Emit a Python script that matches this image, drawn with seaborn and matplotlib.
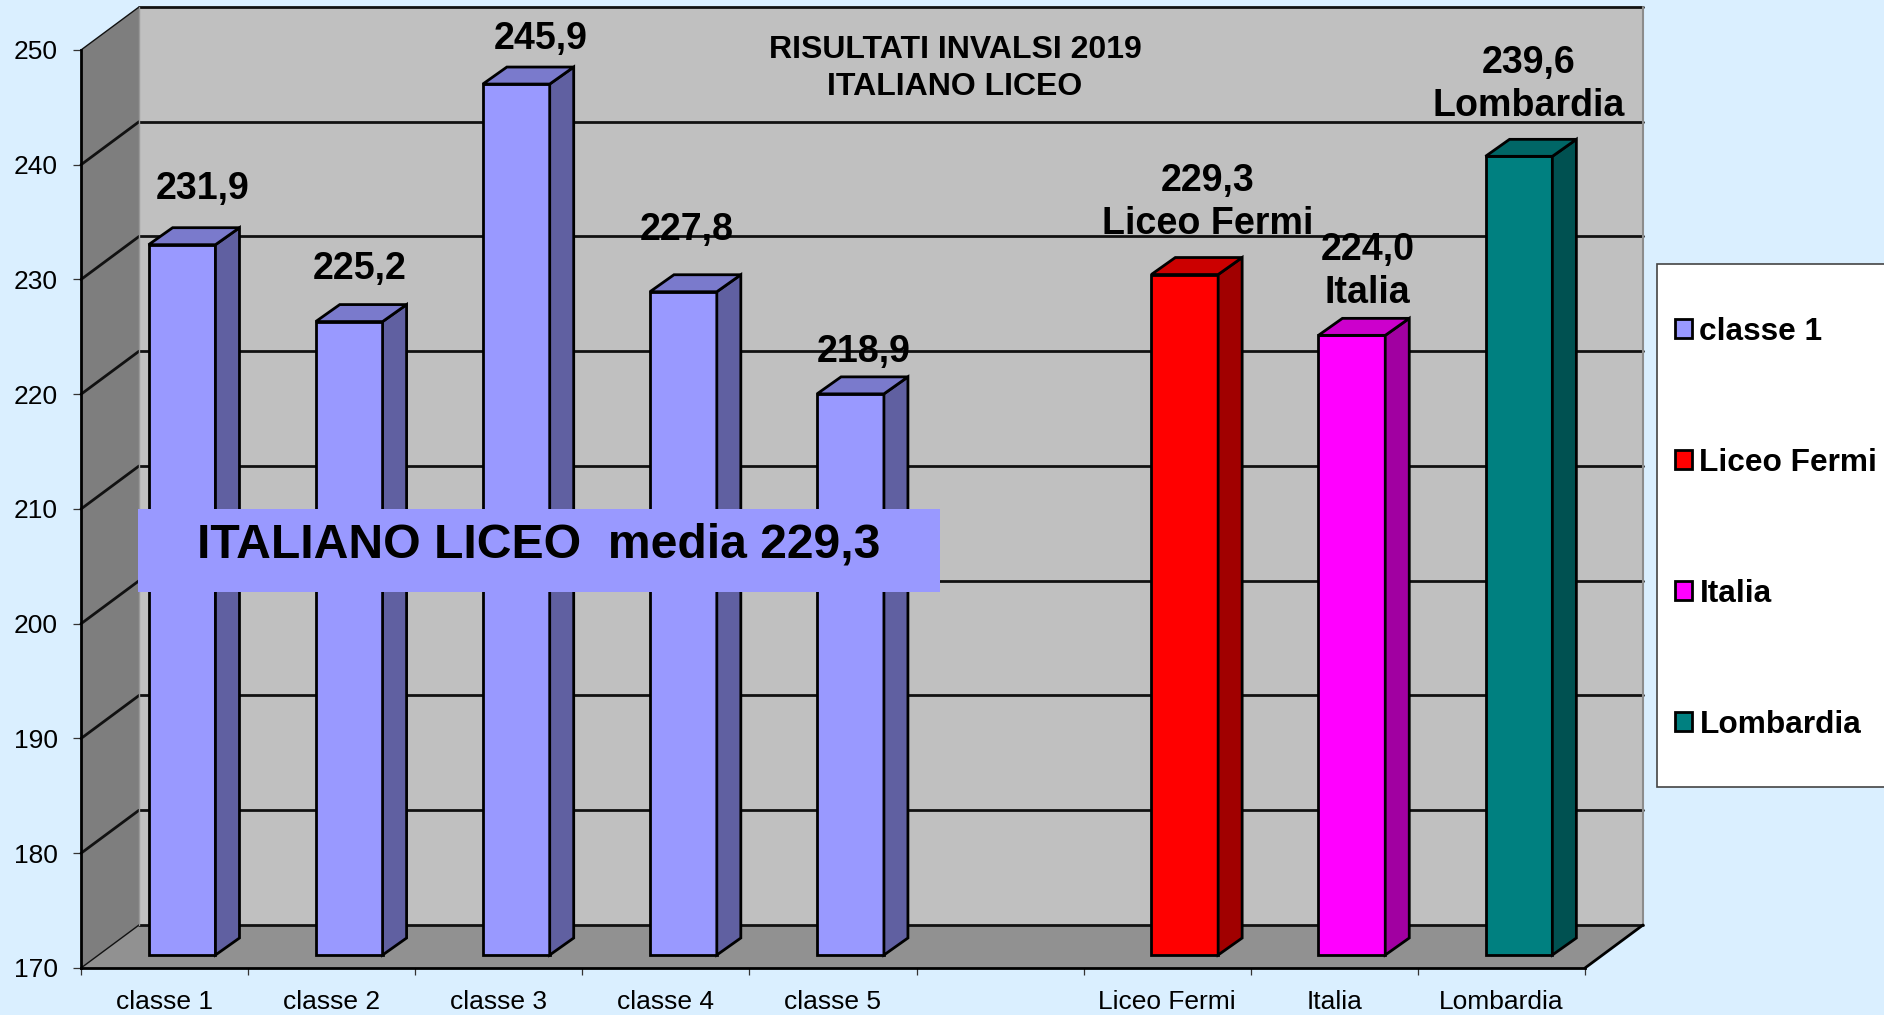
# -*- coding: utf-8 -*-
import seaborn as sns
import matplotlib.pyplot as plt
from matplotlib.patches import Patch, Polygon, Rectangle
from matplotlib.transforms import Affine2D


#%% Data

Categories = ["classe 1", "classe 2", "classe 3", "classe 4", "classe 5", "", "Liceo Fermi", "Italia", "Lombardia"]

Bar_Names  = ["classe 1", "classe 2", "classe 3", "classe 4", "classe 5", "Liceo Fermi", "Italia", "Lombardia"]
Bar_Values = [231.9, 225.2, 245.9, 227.8, 218.9, 229.3, 224.0, 239.6]
Bar_Labels = ["231,9", "225,2", "245,9", "227,8", "218,9", "229,3\nLiceo Fermi", "224,0\nItalia", "239,6\nLombardia"]

Legend_Names = ["classe 1", "Liceo Fermi", "Italia", "Lombardia"]

YTicks = [170, 180, 190, 200, 210, 220, 230, 240, 250]

Title_Text  = "RISULTATI INVALSI 2019\nITALIANO LICEO"
Banner_Text = "ITALIANO LICEO  media 229,3"


#%% Style

Width_Px, Height_Px = 1884, 1015
Dpi = 100

Color_Back   = "#DAEFFF"
Color_Wall   = "#C0C0C0"
Color_Side   = "#7E7E7E"
Color_Floor  = "#919191"
Color_Purple = "#9999FF"

Palette = {
    "classe 1": Color_Purple, "classe 2": Color_Purple, "classe 3": Color_Purple,
    "classe 4": Color_Purple, "classe 5": Color_Purple,
    "Liceo Fermi": "#FF0000", "Italia": "#FF00FF", "Lombardia": "#008080",
}

# label offsets from the top of the bar, pixels
Label_Offsets = [(21, 56), (11, 53), (24, 45), (3, 62), (13, 42), (23, 72), (16, 64), (10, 72)]

# plot box and depth, pixels
Box_Left, Box_Right, Box_Bottom, Box_Top = 81, 1585, 968, 50
Wall_Dx, Wall_Dy = 58, 43
Bar_Shift_X, Bar_Shift_Y = 17.5, 13
Bar_Dx, Bar_Dy = 24, 17
Bar_Width = 0.4

Line_W = 2

sns.set_style("white")
plt.rcParams["font.family"] = ["Liberation Sans", "DejaVu Sans"]


def shade(color, factor):
    r, g, b = plt.matplotlib.colors.to_rgb(color)
    return (r * factor, g * factor, b * factor)


Fig = plt.figure(figsize=[Width_Px / Dpi, Height_Px / Dpi], dpi=Dpi, facecolor=Color_Back)

# pixel coordinates, top left origin
Px = Affine2D().scale(1 / Width_Px, -1 / Height_Px).translate(0, 1) + Fig.transFigure


def axes_rect(shift_x, shift_y):
    return [(Box_Left + shift_x) / Width_Px,
            1 - (Box_Bottom - shift_y) / Height_Px,
            (Box_Right - Box_Left) / Width_Px,
            (Box_Bottom - Box_Top) / Height_Px]


XLim = [-0.5, 8.5]
YLim = [YTicks[0], YTicks[-1]]
Unit_X = (Box_Right - Box_Left) / (XLim[1] - XLim[0])
Unit_Y = (Box_Bottom - Box_Top) / (YLim[1] - YLim[0])
Dx, Dy = Wall_Dx / Unit_X, Wall_Dy / Unit_Y


#%% Walls and floor

ax = Fig.add_axes(axes_rect(0, 0), facecolor="none")
ax.set_xlim(XLim)
ax.set_ylim(YLim)

ax.add_patch(Polygon([(XLim[0] + Dx, YLim[0] + Dy), (XLim[1] + Dx, YLim[0] + Dy),
                      (XLim[1] + Dx, YLim[1] + Dy), (XLim[0] + Dx, YLim[1] + Dy)],
                     facecolor=Color_Wall, edgecolor="none", clip_on=False, zorder=0.5))
ax.add_patch(Polygon([(XLim[0], YLim[0]), (XLim[0] + Dx, YLim[0] + Dy),
                      (XLim[0] + Dx, YLim[1] + Dy), (XLim[0], YLim[1])],
                     facecolor=Color_Side, edgecolor="none", clip_on=False, zorder=0.6))
ax.add_patch(Polygon([(XLim[0], YLim[0]), (XLim[1], YLim[0]),
                      (XLim[1] + Dx, YLim[0] + Dy), (XLim[0] + Dx, YLim[0] + Dy)],
                     facecolor=Color_Floor, edgecolor="none", clip_on=False, zorder=0.7))

for tick in YTicks:
    # first and last diagonals are thinner
    diag_w = 1 if tick in YLim else Line_W
    ax.plot([XLim[0], XLim[0] + Dx], [tick, tick + Dy], color="#111111", lw=diag_w, clip_on=False, zorder=1)
    ax.plot([XLim[0] + Dx, XLim[1] + Dx], [tick + Dy, tick + Dy], color="#111111", lw=Line_W, clip_on=False, zorder=1)

# right hand edges
ax.plot([XLim[1] + Dx, XLim[1] + Dx], [YLim[0] + Dy, YLim[1] + Dy], color="#8C8C8C", lw=1.5, clip_on=False, zorder=1)
ax.plot([XLim[0] + Dx, XLim[0] + Dx], [YLim[0] + Dy, YLim[1] + Dy], color="#999999", lw=1, clip_on=False, zorder=1)
ax.plot([XLim[1], XLim[1] + Dx], [YLim[0], YLim[0] + Dy], color="k", lw=Line_W, clip_on=False, zorder=1)

ax.spines[["right", "top"]].set_visible(False)
ax.spines[["left", "bottom"]].set_linewidth(Line_W)
ax.spines[["left", "bottom"]].set_color("k")

ax.set_yticks(YTicks)
ax.tick_params(axis="y", length=5.8, width=0.9, pad=11, labelsize=19, color="#333333", labelcolor="k", left=True)
ax.set_xticks([i - 0.5 for i in range(10)], labels=[])
ax.tick_params(axis="x", which="major", length=5, width=0.9, color="#333333", bottom=True)
ax.set_xticks(range(9), labels=Categories, minor=True)
ax.tick_params(axis="x", which="minor", length=0, pad=15.5, labelsize=19, labelcolor="k", bottom=False)


#%% Bars

ax_bars = Fig.add_axes(axes_rect(Bar_Shift_X, Bar_Shift_Y), facecolor="none")

sns.barplot(x=Bar_Names, y=Bar_Values, hue=Bar_Names, order=Categories, palette=Palette, saturation=1,
            width=Bar_Width, dodge=False, legend=False, edgecolor="k", linewidth=Line_W, ax=ax_bars)

ax_bars.set_xlim(XLim)
ax_bars.set_ylim(YLim)
ax_bars.axis("off")

Bar_Dx_U, Bar_Dy_U = Bar_Dx / Unit_X, Bar_Dy / Unit_Y

Patches = sorted([p for p in ax_bars.patches if p.get_height() > 0], key=lambda p: p.get_x())

for p, value, label, offset in zip(Patches, Bar_Values, Bar_Labels, Label_Offsets):
    x0 = p.get_x()
    x1 = x0 + p.get_width()
    color = p.get_facecolor()

    # bars start at the bottom of the axis
    p.set_y(YLim[0])
    p.set_height(value - YLim[0])
    p.set_clip_on(False)
    p.set_joinstyle("miter")

    ax_bars.add_patch(Polygon([(x1, YLim[0]), (x1 + Bar_Dx_U, YLim[0] + Bar_Dy_U),
                               (x1 + Bar_Dx_U, value + Bar_Dy_U), (x1, value)],
                              facecolor=shade(color, 0.63), edgecolor="k", lw=Line_W, clip_on=False, zorder=p.get_zorder()))
    ax_bars.add_patch(Polygon([(x0, value), (x1, value),
                               (x1 + Bar_Dx_U, value + Bar_Dy_U), (x0 + Bar_Dx_U, value + Bar_Dy_U)],
                              facecolor=shade(color, 0.8), edgecolor="k", lw=Line_W, clip_on=False, zorder=p.get_zorder()))

    ax_bars.annotate(label, xy=((x0 + x1) / 2, value), xytext=offset, textcoords="offset pixels",
                     ha="center", va="center", fontsize=27.1, fontweight="bold", color="k",
                     linespacing=1.27, annotation_clip=False, zorder=5)


#%% Title, banner and legend

Fig.text(955, 68.5, Title_Text, transform=Px, ha="center", va="center", fontsize=23,
         fontweight="bold", color="k", linespacing=1.27)

Fig.add_artist(Rectangle((138, 509), 802, 83, transform=Px, facecolor=Color_Purple, edgecolor="none", zorder=6))
Fig.text(539, 545.5, Banner_Text, transform=Px, ha="center", va="center", fontsize=34.7,
         fontweight="bold", color="k", zorder=7)

Fig.add_artist(Rectangle((1657, 264), 240, 523, transform=Px, facecolor="white", edgecolor="#444444", lw=1.2, zorder=6))

Handles = [Patch(facecolor=Palette[name], edgecolor="k", lw=2, label=name) for name in Legend_Names]
Legend = Fig.legend(handles=Handles, loc="upper left", bbox_to_anchor=(1675 / Width_Px, 1 - 317 / Height_Px),
                    frameon=False, borderpad=0, borderaxespad=0, handlelength=0.55, handleheight=0.55,
                    handletextpad=0.22, labelspacing=3.19, labelcolor="k", prop={"size": 22.8, "weight": "bold"})
Legend.set_zorder(7)

Fig.savefig("out.png", dpi=Dpi, facecolor=Color_Back)
